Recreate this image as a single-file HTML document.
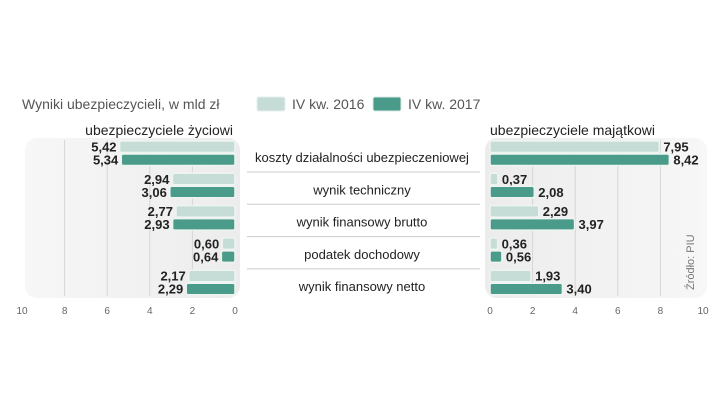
<!DOCTYPE html>
<html><head><meta charset="utf-8"><style>
body{margin:0;background:#fff;width:720px;height:405px;overflow:hidden;font-family:"Liberation Sans",sans-serif}
svg text{font-family:"Liberation Sans",sans-serif}
</style></head><body>
<svg width="720" height="405">
<defs>
<linearGradient id="gl" x1="0" x2="1"><stop offset="0" stop-color="#f7f7f7"/><stop offset="1" stop-color="#ececec"/></linearGradient>
<linearGradient id="gr" x1="0" x2="1"><stop offset="0" stop-color="#ececec"/><stop offset="1" stop-color="#f7f7f7"/></linearGradient>
</defs>
<text x="22" y="109" font-size="14" fill="#555">Wyniki ubezpieczycieli, w mld zł</text>
<rect x="257" y="97" width="28" height="14" rx="2" fill="#c5ddd6" stroke="#e6efec"/>
<text x="292" y="109" font-size="14" fill="#555">IV kw. 2016</text>
<rect x="373" y="97" width="28" height="14" rx="2" fill="#4a9b8a" stroke="#d8e8e3"/>
<text x="408" y="109" font-size="14" fill="#555">IV kw. 2017</text>
<text x="233" y="135" font-size="14" text-anchor="end" fill="#222">ubezpieczyciele życiowi</text>
<text x="490" y="135" font-size="14" fill="#222">ubezpieczyciele majątkowi</text>
<rect x="25" y="138" width="215" height="160" rx="12" fill="url(#gl)"/>
<rect x="485" y="138" width="222" height="160" rx="12" fill="url(#gr)"/>
<g id="grid"></g>
<g id="marks"></g>
<text transform="translate(694,290) rotate(-90)" font-size="11" fill="#777">Źródło: PIU</text>
</svg>
<script>
const categories=["koszty działalności ubezpieczeniowej","wynik techniczny","wynik finansowy brutto","podatek dochodowy","wynik finansowy netto"];
const life2016=[5.42,2.94,2.77,0.60,2.17];
const life2017=[5.34,3.06,2.93,0.64,2.29];
const prop2016=[7.95,0.37,2.29,0.36,1.93];
const prop2017=[8.42,2.08,3.97,0.56,3.40];
const ticks=[0,2,4,6,8,10];
const NS="http://www.w3.org/2000/svg";
const U=21.3;
const xL=v=>235-v*U, xR=v=>490+v*U;
const rowY=i=>141+i*32.3;
const grid=document.getElementById('grid'), marks=document.getElementById('marks');
function el(tag,attrs,parent,txt){const e=document.createElementNS(NS,tag);for(const k in attrs)e.setAttribute(k,attrs[k]);if(txt!==undefined)e.textContent=txt;parent.appendChild(e);return e;}
const fmt=v=>v.toFixed(2).replace('.',',');
ticks.forEach(t=>{
  if(t>0&&t<10){
    const g1=el('line',{x1:xL(t),x2:xL(t),y1:140,y2:296,stroke:'#d6d6d6','stroke-width':1},grid);
    
    
    const g2=el('line',{x1:xR(t),x2:xR(t),y1:140,y2:296,stroke:'#d6d6d6','stroke-width':1},grid);
    
    
  }
  const a=el('text',{x:xL(t),y:314,'font-size':10,'text-anchor':'middle',fill:'#666'},grid,String(t));
  
  
  const b=el('text',{x:xR(t),y:314,'font-size':10,'text-anchor':'middle',fill:'#666'},grid,String(t));
  
  
});
categories.forEach((c,i)=>{
  const y=rowY(i);
  const lab=el('text',{x:362,y:y+21,'font-size':13,'text-anchor':'middle',fill:'#222'},marks,c);
  
  
  if(i<4){
    const s=el('line',{x1:247,x2:480,y1:y+31,y2:y+31,stroke:'#ccc'},marks);
    
    
  }
  [[life2016,life2017,'left'],[prop2016,prop2017,'right']].forEach(([a,b,side])=>{
    [[a[i],'#c5ddd6',y,'2016'],[b[i],'#4a9b8a',y+13,'2017']].forEach(([v,col,yy,yr])=>{
      const w=Math.max(v*U,6);
      const x=side==='left'?235-w:490;
      const r=el('rect',{x:x,y:yy,width:w,height:11.5,rx:2,fill:col,stroke:'#eef4f2','stroke-width':1.5},marks);
      
      
      const tx=side==='left'?x-3:x+w+4;
      const t=el('text',{x:tx,y:yy+10.5,'font-size':13,'font-weight':'bold','text-anchor':side==='left'?'end':'start',fill:'#222'},marks,fmt(v));
      
      
    });
  });
});
</script>
</body></html>
